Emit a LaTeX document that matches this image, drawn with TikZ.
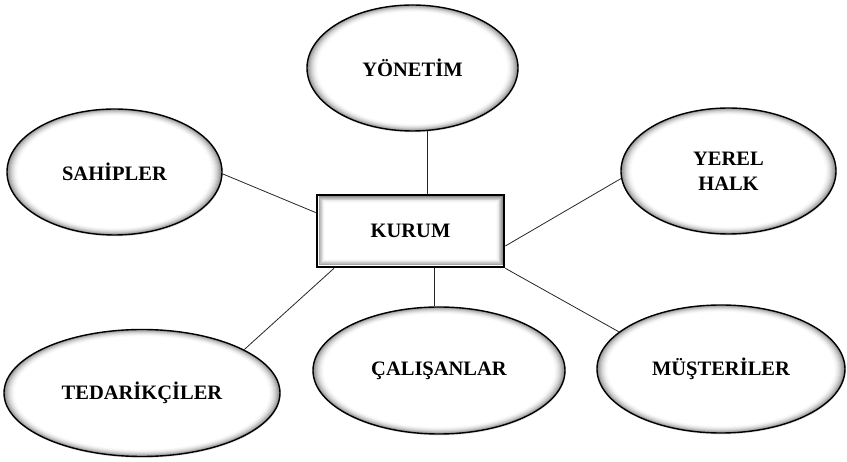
\documentclass[tikz,border=0pt]{standalone}
\usepackage{fontspec}
\setmainfont{Liberation Serif}
\usetikzlibrary{shapes.geometric,shadows}

\tikzset{
  label font/.style={font=\bfseries\fontsize{20.5}{25}\selectfont, text=black, align=center},
  % ellipse with a soft grey rim: #1, #2 are the half axes in pt
  actor/.style 2 args={ellipse, draw=black, line width=1.4pt, inner sep=0pt,
    fill=white, minimum width=2*#1 pt, minimum height=2*#2 pt, label font,
    drop shadow={opacity=0.22, shadow xshift=0.5pt, shadow yshift=-1.4pt},
    path picture={
      \foreach \k in {0,...,11}{
        \pgfmathtruncatemacro\greyval{52*(1-\k/12)^2}
        \draw[black!\greyval, line width=1.4pt]
          (path picture bounding box.center) ellipse
          [x radius={#1pt-\k*1.05pt}, y radius={#2pt-\k*0.7pt}];
      }}},
  hub/.style={rectangle, draw=black, line width=2.6pt, inner sep=0pt,
    minimum width=187pt, minimum height=72pt, fill=white, label font,
    path picture={
      \foreach \k in {1,...,9}{
        \pgfmathsetmacro\inset{1.2+0.8*\k}
        \pgfmathtruncatemacro\greyval{55*(1-\k/10)^2}
        \draw[black!\greyval, line width=1pt]
          ([shift={(\inset pt,\inset pt)}]path picture bounding box.south west) rectangle
          ([shift={(-\inset pt,-\inset pt)}]path picture bounding box.north east);
      }}},
  link/.style={draw=black!85, line width=0.8pt},
}

\begin{document}
\begin{tikzpicture}[x=1pt, y=-1pt]
\useasboundingbox (0,0) rectangle (847,462);

\node[hub] (kurum) at (410.5,231) {KURUM};

\node[actor={105.5}{63}] (yonetim) at (412.5,68) {YÖNETİM};
\node[actor={107.5}{63}] (sahipler) at (114.5,172) {SAHİPLER};
\node[actor={107.5}{63}] (yerel) at (728.5,171) {YEREL\\HALK};
\node[actor={138}{63.5}] (tedarik) at (142,393) {TEDARİKÇİLER};
\node[actor={126}{63.5}] (calisan) at (439,370.5) {ÇALIŞANLAR};
\node[actor={124}{64}] (musteri) at (721,369) {MÜŞTERİLER};

\draw[link] (yonetim.-77) -- (yonetim.-77 |- kurum.north);
\draw[link] (sahipler.-1.6) -- (kurum.169);
\draw[link] (yerel.-176.2) -- (kurum.-9.7);
\draw[link] (tedarik.23.6) -- (kurum.-154.5);
\draw[link] (calisan.94.5) -- (calisan.94.5 |- kurum.south);
\draw[link] (musteri.160.6) -- (kurum.south east);
\end{tikzpicture}
\end{document}
